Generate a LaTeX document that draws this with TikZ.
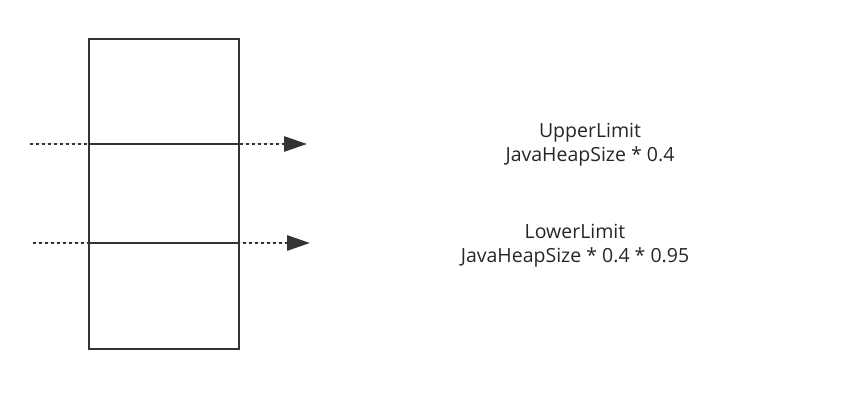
\documentclass[tikz,border=0pt]{standalone}
\usepackage{fontspec}
\setmainfont{Open Sans}
\usetikzlibrary{arrows.meta}

\begin{document}
\begin{tikzpicture}[
    x=1pt, y=-1pt,
    bigtri/.tip={Triangle[length=23pt,width=15pt]},
    heapbox/.style={draw=black!80, line width=2.6pt, minimum width=150pt, minimum height=310pt, inner sep=0pt},
    limitline/.style={-bigtri, draw=black!80, fill=black!80, line width=2.8pt, dash pattern=on 2.8pt off 3.2pt},
    limittext/.style={align=center, text=black!85, font=\fontsize{19.5}{24}\selectfont},
]
    \useasboundingbox (0,0) rectangle (854,395);

    \node[heapbox] (heap) at (164,194) {};

    % limits cutting through the heap
    \coordinate (upstart) at (30,144);
    \coordinate (upend) at (307,144);
    \coordinate (lowstart) at (33,243);
    \coordinate (lowend) at (310,243);

    \draw[black!80, line width=2.6pt] (heap.west |- upstart) -- (heap.east |- upstart);
    \draw[black!80, line width=2.6pt] (heap.west |- lowstart) -- (heap.east |- lowstart);

    \draw[limitline] (upstart) -- (upend);
    \draw[limitline] (lowstart) -- (lowend);

    \node[limittext] (upper) at (590,145) {UpperLimit\\JavaHeapSize * 0.4};
    \node[limittext] (lower) at (575,246) {LowerLimit\\JavaHeapSize * 0.4 * 0.95};
\end{tikzpicture}
\end{document}
